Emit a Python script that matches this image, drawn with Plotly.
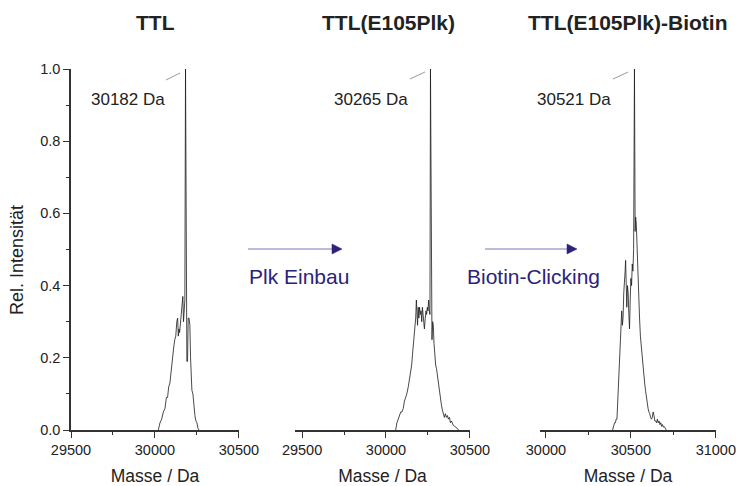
import plotly.graph_objects as go

# ---------------- data ----------------
titles = ["TTL", "TTL(E105Plk)", "TTL(E105Plk)-Biotin"]
peak_labels = ["30182 Da", "30265 Da", "30521 Da"]
arrow_texts = ["Plk Einbau", "Biotin-Clicking"]

mass1 = [30020, 30030, 30040, 30050, 30060, 30068, 30075, 30082, 30089, 30095,
         30100, 30106, 30112, 30118, 30124, 30130, 30135, 30139, 30143, 30147,
         30152, 30157, 30162, 30166, 30170, 30174, 30178, 30182, 30186, 30190,
         30194, 30198, 30203, 30208, 30212, 30216, 30220, 30226, 30232, 30238,
         30244, 30250, 30256, 30262]
int1 = [0.0, 0.02, 0.03, 0.05, 0.06, 0.09, 0.09, 0.12, 0.13, 0.16,
        0.19, 0.20, 0.23, 0.25, 0.26, 0.30, 0.31, 0.26, 0.28, 0.27,
        0.30, 0.31, 0.34, 0.37, 0.30, 0.33, 0.36, 1.0, 0.21, 0.19,
        0.19, 0.31, 0.31, 0.29, 0.20, 0.13, 0.11, 0.10, 0.06, 0.04,
        0.025, 0.02, 0.005, 0.0]

mass2 = [30058, 30065, 30073, 30080, 30088, 30095, 30103, 30110, 30117, 30124,
         30133, 30140, 30147, 30153, 30158, 30162, 30167, 30172, 30177, 30181,
         30184, 30188, 30192, 30196, 30200, 30205, 30209, 30213, 30217, 30221,
         30225, 30229, 30234, 30238, 30242, 30246, 30250, 30254, 30258, 30262,
         30265, 30270, 30274, 30278, 30282, 30286, 30291, 30296, 30301, 30306,
         30312, 30318, 30324, 30330, 30336, 30342, 30348, 30354, 30360, 30366,
         30372, 30378, 30384, 30390, 30396, 30402, 30410, 30418, 30426, 30432]
int2 = [0.0, 0.02, 0.03, 0.04, 0.05, 0.05, 0.06, 0.08, 0.09, 0.10,
        0.12, 0.14, 0.16, 0.18, 0.21, 0.23, 0.26, 0.29, 0.31, 0.36,
        0.33, 0.29, 0.34, 0.31, 0.34, 0.32, 0.33, 0.30, 0.34, 0.31,
        0.30, 0.28, 0.31, 0.33, 0.32, 0.34, 0.33, 0.36, 0.33, 0.32,
        1.0, 0.27, 0.25, 0.30, 0.29, 0.24, 0.20, 0.18, 0.17, 0.15,
        0.13, 0.11, 0.09, 0.07, 0.055, 0.04, 0.035, 0.045, 0.035, 0.04,
        0.03, 0.035, 0.02, 0.025, 0.015, 0.012, 0.01, 0.008, 0.004, 0.0]

mass3 = [30392, 30398, 30404, 30409, 30413, 30418, 30422, 30426, 30430, 30434,
         30438, 30442, 30446, 30450, 30454, 30458, 30462, 30466, 30469, 30472,
         30476, 30480, 30484, 30488, 30492, 30496, 30500, 30504, 30508, 30512,
         30516, 30521, 30525, 30528, 30532, 30536, 30540, 30546, 30551, 30556,
         30561, 30566, 30571, 30576, 30581, 30586, 30591, 30596, 30601, 30606,
         30611, 30616, 30621, 30626, 30631, 30636, 30641, 30646, 30651, 30656,
         30661, 30666, 30671, 30676, 30681, 30686, 30691, 30696, 30702, 30708]
int3 = [0.0, 0.01, 0.02, 0.02, 0.03, 0.03, 0.07, 0.11, 0.16, 0.20,
        0.24, 0.30, 0.33, 0.29, 0.31, 0.38, 0.40, 0.44, 0.47, 0.36,
        0.34, 0.40, 0.38, 0.32, 0.28, 0.36, 0.42, 0.40, 0.46, 0.44,
        0.50, 1.0, 0.55, 0.59, 0.57, 0.50, 0.43, 0.36, 0.31, 0.26,
        0.23, 0.20, 0.17, 0.15, 0.13, 0.11, 0.09, 0.08, 0.06, 0.05,
        0.045, 0.035, 0.03, 0.035, 0.05, 0.04, 0.025, 0.025, 0.02, 0.03,
        0.02, 0.025, 0.015, 0.02, 0.01, 0.015, 0.008, 0.01, 0.004, 0.0]

x_ranges = [[29500, 30500.5], [29458, 30500.5], [29965, 31001]]
x_tickvals = [[29500, 30000, 30500], [29500, 30000, 30500], [30000, 30500, 31000]]
x_ticktext = [["29500", "30000", "30500"], ["29500", "30000", "30500"], ["30000", "30500", "31000"]]
y_tickvals = [0.0, 0.2, 0.4, 0.6, 0.8, 1.0]
y_ticktext = ["0.0", "0.2", "0.4", "0.6", "0.8", "1.0"]
x_title = "Masse / Da"
y_title = "Rel. Intensität"

# ---------------- layout helpers ----------------
W, H = 736, 486
def px(x):
    return x / W
def py(y):
    return 1 - y / H

panel_px = [(71, 239), (295, 470), (540, 716)]
y_top, y_bot = 69, 430

FONT = "Liberation Sans, Arial, sans-serif"
TXT = "#222222"
BLUE = "#2b237a"
LBLUE = "#7a78c0"

fig = go.Figure()
masses = [mass1, mass2, mass3]
ints = [int1, int2, int3]
for i in range(3):
    xa = "x" if i == 0 else f"x{i+1}"
    ya = "y" if i == 0 else f"y{i+1}"
    fig.add_trace(go.Scatter(x=masses[i], y=ints[i], mode="lines",
                             line=dict(color="#1a1a1a", width=0.8),
                             xaxis=xa, yaxis=ya, showlegend=False,
                             hoverinfo="skip"))

layout = dict(width=W, height=H, margin=dict(l=0, r=0, t=0, b=0, autoexpand=False),
              paper_bgcolor="white", plot_bgcolor="white",
              font=dict(family=FONT, color=TXT), showlegend=False)

for i in range(3):
    xk = "xaxis" if i == 0 else f"xaxis{i+1}"
    yk = "yaxis" if i == 0 else f"yaxis{i+1}"
    ya = "y" if i == 0 else f"y{i+1}"
    x0, x1 = panel_px[i]
    layout[xk] = dict(domain=[px(x0), px(x1)], range=x_ranges[i], anchor=ya,
                      automargin=False,
                      showline=True, linecolor="#333333", linewidth=1.5,
                      showgrid=False, zeroline=False,
                      ticks="outside", ticklen=6, tickwidth=1.2, tickcolor="#333333",
                      tickvals=x_tickvals[i], ticktext=x_ticktext[i],
                      tickfont=dict(size=14.5, color=TXT, family=FONT),
                      minor=dict(ticks="outside", ticklen=3, tickwidth=1.2,
                                 tickcolor="#333333", dtick=250, showgrid=False),
                      title=dict(text=x_title, font=dict(size=17.5, color=TXT, family=FONT),
                                 standoff=13),
                      fixedrange=True)
    ydict = dict(domain=[py(y_bot), py(y_top)], range=[0, 1], anchor="x" if i == 0 else f"x{i+1}",
                 automargin=False, showgrid=False, zeroline=False, fixedrange=True)
    if i == 0:
        ydict.update(showline=True, linecolor="#333333", linewidth=1.5,
                     ticks="outside", ticklen=6, tickwidth=1.2, tickcolor="#333333",
                     tickvals=y_tickvals, ticktext=y_ticktext,
                     tickfont=dict(size=14.5, color=TXT, family=FONT),
                     minor=dict(ticks="outside", ticklen=3, tickwidth=1.2,
                                tickcolor="#333333", dtick=0.1, showgrid=False))
    else:
        ydict.update(visible=False)
    layout[yk] = ydict

fig.update_layout(**layout)

annotations = []
shapes = []

annotations.append(dict(text=y_title, x=px(17), y=py(260), xref="paper", yref="paper",
                        showarrow=False, textangle=-90, xanchor="center", yanchor="middle",
                        font=dict(size=18, color=TXT, family=FONT)))

title_cx = [155, 388, 628]
for i in range(3):
    annotations.append(dict(text=f"<b>{titles[i]}</b>", x=px(title_cx[i]), y=py(23),
                            xref="paper", yref="paper", showarrow=False,
                            xanchor="center", yanchor="middle",
                            font=dict(size=21, color=TXT, family=FONT)))

label_left = [89, 332, 535]
leader = [((166, 80), (180, 73)), ((410, 79), (425, 72)), ((613, 79), (628, 72))]
for i in range(3):
    annotations.append(dict(text=peak_labels[i], x=px(label_left[i]), y=py(100),
                            xref="paper", yref="paper", showarrow=False,
                            xanchor="left", yanchor="middle",
                            font=dict(size=17, color=TXT, family=FONT)))
    (a, b), (c, d) = leader[i]
    shapes.append(dict(type="line", xref="paper", yref="paper",
                       x0=px(a), y0=py(b), x1=px(c), y1=py(d),
                       line=dict(color="#999999", width=1)))

arrows = [((248, 249), (342, 249), 247), ((485, 249), (577, 249), 465)]
for k, ((xa0, ya0), (xa1, ya1), tx) in enumerate(arrows):
    shapes.append(dict(type="line", xref="paper", yref="paper",
                       x0=px(xa0), y0=py(ya0), x1=px(xa1 - 9), y1=py(ya1),
                       line=dict(color=LBLUE, width=1)))
    path = (f"M {px(xa1-10)},{py(ya1-5)} L {px(xa1)},{py(ya1)} "
            f"L {px(xa1-10)},{py(ya1+5)} Z")
    shapes.append(dict(type="path", xref="paper", yref="paper", path=path,
                       fillcolor=BLUE, line=dict(color=BLUE, width=0.5)))
    annotations.append(dict(text=arrow_texts[k], x=px(tx), y=py(276),
                            xref="paper", yref="paper", showarrow=False,
                            xanchor="left", yanchor="middle",
                            font=dict(size=21, color=BLUE, family=FONT)))

fig.update_layout(annotations=annotations, shapes=shapes)
fig.write_html("out.html", config={"displayModeBar": False},
               post_script="document.body.style.margin='0px';document.body.style.overflow='hidden';")
